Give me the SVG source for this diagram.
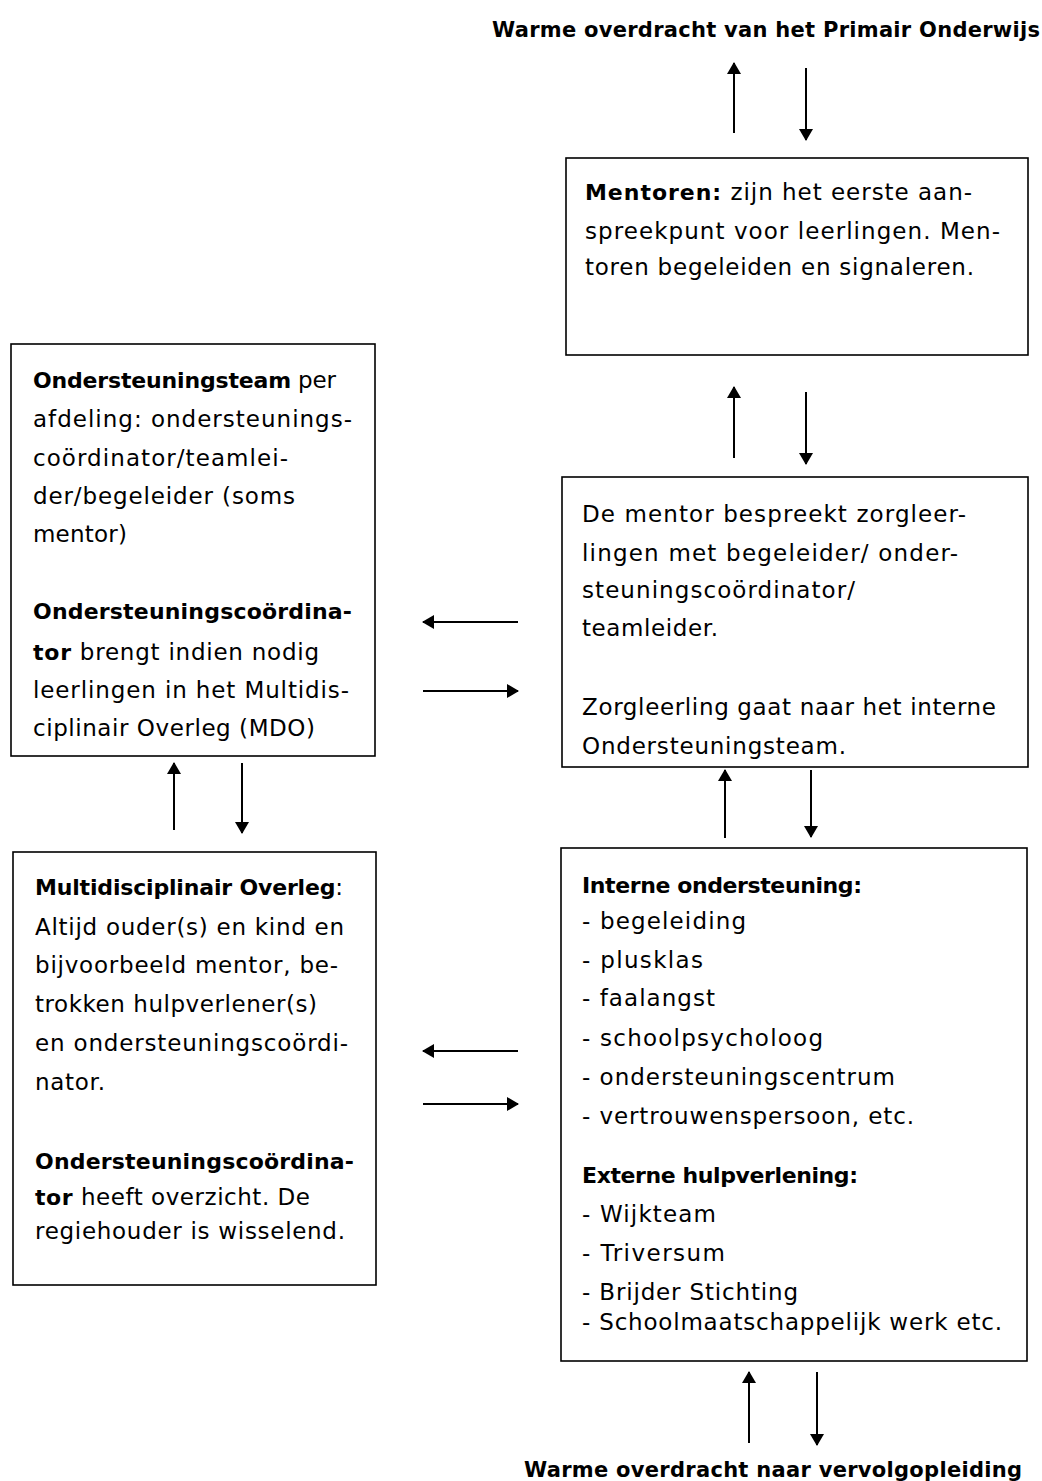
<svg xmlns="http://www.w3.org/2000/svg" width="1042" height="1481" viewBox="0 0 1042 1481">
<style>
text{font-family:"DejaVu Sans","Verdana",sans-serif;font-size:23px;fill:#000}
.b{font-weight:bold;font-size:22px}
.t{font-size:21px}
.box{fill:#fff;stroke:#000;stroke-width:1.6}
.ar{stroke:#000;stroke-width:2;fill:none;marker-end:url(#ah)}
</style>
<defs>
<marker id="ah" markerUnits="userSpaceOnUse" markerWidth="12" markerHeight="16" viewBox="0 0 12 16" refX="11" refY="8" orient="auto">
<path d="M0,1 L12,8 L0,15 Z" fill="#000"/>
</marker>
<clipPath id="clipMid"><rect x="562" y="477" width="466" height="282"/></clipPath>
</defs>
<rect width="1042" height="1481" fill="#fff"/>

<g id="title-top"><text class="b t" x="492" y="37" textLength="548">Warme overdracht van het Primair Onderwijs</text></g>

<g id="mentoren">
<rect class="box" x="566" y="158" width="462" height="197"/>
<text x="585" y="200" textLength="387"><tspan class="b">Mentoren:</tspan> zijn het eerste aan-</text>
<text x="585" y="239" textLength="415">spreekpunt voor leerlingen. Men-</text>
<text x="585" y="275" textLength="389">toren begeleiden en signaleren.</text>
</g>

<g id="mentor-bespreekt">
<rect class="box" x="562" y="477" width="466" height="290"/>
<g clip-path="url(#clipMid)">
<text x="582" y="522" textLength="384">De mentor bespreekt zorgleer-</text>
<text x="582" y="561" textLength="376">lingen met begeleider/ onder-</text>
<text x="582" y="598" textLength="273">steuningscoördinator/</text>
<text x="582" y="636" textLength="136">teamleider.</text>
<text x="582" y="715" textLength="414">Zorgleerling gaat naar het interne</text>
<text x="582" y="754" textLength="264">Ondersteuningsteam.</text>
</g>
</g>

<g id="ondersteuningsteam">
<rect class="box" x="11" y="344" width="364" height="412"/>
<text x="33" y="388" textLength="303"><tspan class="b">Ondersteuningsteam</tspan> per</text>
<text x="33" y="427" textLength="319">afdeling: ondersteunings-</text>
<text x="33" y="466" textLength="255">coördinator/teamlei-</text>
<text x="33" y="504" textLength="262">der/begeleider (soms</text>
<text x="33" y="542" textLength="94">mentor)</text>
<text class="b" x="33" y="619" textLength="319">Ondersteuningscoördina-</text>
<text x="33" y="660" textLength="286"><tspan class="b">tor</tspan> brengt indien nodig</text>
<text x="33" y="698" textLength="316">leerlingen in het Multidis-</text>
<text x="33" y="736" textLength="282">ciplinair Overleg (MDO)</text>
</g>

<g id="mdo">
<rect class="box" x="13" y="852" width="363" height="433"/>
<text x="35" y="895" textLength="308"><tspan class="b">Multidisciplinair Overleg</tspan>:</text>
<text x="35" y="935" textLength="309">Altijd ouder(s) en kind en</text>
<text x="35" y="973" textLength="303">bijvoorbeeld mentor, be-</text>
<text x="35" y="1012" textLength="282">trokken hulpverlener(s)</text>
<text x="35" y="1051" textLength="313">en ondersteuningscoördi-</text>
<text x="35" y="1090" textLength="70">nator.</text>
<text class="b" x="35" y="1169" textLength="319">Ondersteuningscoördina-</text>
<text x="35" y="1205" textLength="275"><tspan class="b">tor</tspan> heeft overzicht. De</text>
<text x="35" y="1239" textLength="310">regiehouder is wisselend.</text>
</g>

<g id="ondersteuning">
<rect class="box" x="561" y="848" width="466" height="513"/>
<text class="b" x="582" y="893" textLength="280">Interne ondersteuning:</text>
<text x="582" y="929" textLength="164">- begeleiding</text>
<text x="582" y="968" textLength="121">- plusklas</text>
<text x="582" y="1006" textLength="133">- faalangst</text>
<text x="582" y="1046" textLength="241">- schoolpsycholoog</text>
<text x="582" y="1085" textLength="313">- ondersteuningscentrum</text>
<text x="582" y="1124" textLength="332">- vertrouwenspersoon, etc.</text>
<text class="b" x="582" y="1183" textLength="276">Externe hulpverlening:</text>
<text x="582" y="1222" textLength="134">- Wijkteam</text>
<text x="582" y="1261" textLength="143">- Triversum</text>
<text x="582" y="1300" textLength="216">- Brijder Stichting</text>
<text x="582" y="1330" textLength="420">- Schoolmaatschappelijk werk etc.</text>
</g>

<g id="title-bottom"><text class="b t" x="524" y="1477" textLength="498">Warme overdracht naar vervolgopleiding</text></g>

<g id="connectors">
<line class="ar" x1="734" y1="133" x2="734" y2="63"/>
<line class="ar" x1="806" y1="68" x2="806" y2="140"/>
<line class="ar" x1="734" y1="458" x2="734" y2="387"/>
<line class="ar" x1="806" y1="392" x2="806" y2="464"/>
<line class="ar" x1="518" y1="622" x2="423" y2="622"/>
<line class="ar" x1="423" y1="691" x2="518" y2="691"/>
<line class="ar" x1="174" y1="830" x2="174" y2="763"/>
<line class="ar" x1="242" y1="763" x2="242" y2="833"/>
<line class="ar" x1="725" y1="838" x2="725" y2="770"/>
<line class="ar" x1="811" y1="770" x2="811" y2="837"/>
<line class="ar" x1="518" y1="1051" x2="423" y2="1051"/>
<line class="ar" x1="423" y1="1104" x2="518" y2="1104"/>
<line class="ar" x1="749" y1="1443" x2="749" y2="1372"/>
<line class="ar" x1="817" y1="1372" x2="817" y2="1445"/>
</g>
</svg>
